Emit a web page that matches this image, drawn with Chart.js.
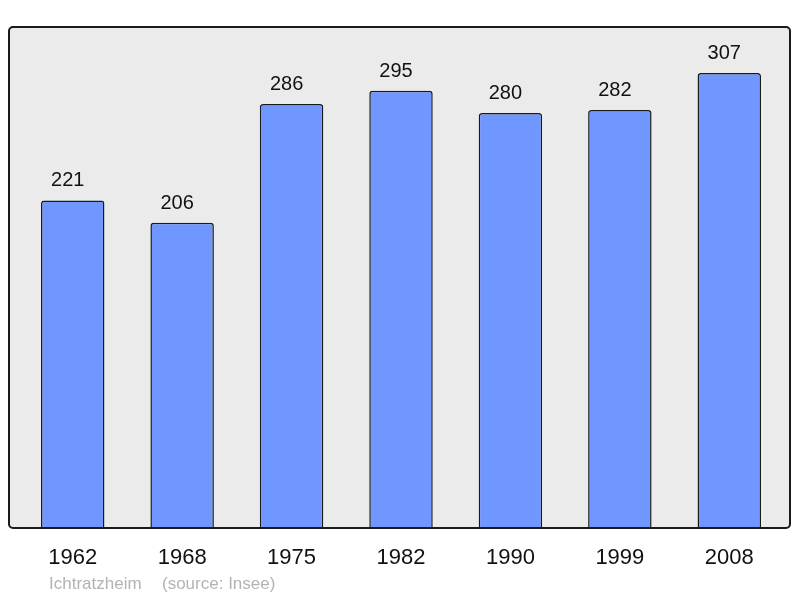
<!DOCTYPE html>
<html>
<head>
<meta charset="utf-8">
<script src="https://cdn.jsdelivr.net/npm/chart.js@4/dist/chart.umd.min.js"></script>
<style>
  html, body { margin: 0; padding: 0; background: #ffffff; }
  #wrap { width: 800px; height: 598px; position: relative; }
</style>
</head>
<body>
<div id="wrap"><canvas id="chart"></canvas></div>
<script>
const years = ["1962", "1968", "1975", "1982", "1990", "1999", "2008"];
const population = [221, 206, 286, 295, 280, 282, 307];
const townName = "Ichtratzheim";
const sourceText = "(source: Insee)";

const FONT = "'Liberation Sans', Arial, sans-serif";

// Grey panel + frame behind bars, labels on top
const panelPlugin = {
  id: "panel",
  beforeDatasetsDraw(chart) {
    const { ctx } = chart;
    ctx.save();
    ctx.fillStyle = "#ebebeb";
    ctx.beginPath();
    ctx.roundRect(9, 27, 781, 501, 4);
    ctx.fill();
    ctx.restore();
  },
  afterDatasetsDraw(chart) {
    const { ctx } = chart;
    const x = chart.scales.x;
    const meta = chart.getDatasetMeta(0);

    ctx.save();
    ctx.strokeStyle = "#1a1a1a";
    ctx.lineWidth = 2;
    ctx.beginPath();
    ctx.roundRect(9, 27, 781, 501, 4);
    ctx.stroke();

    // values above bars (sit slightly left of the bar centre in the original)
    ctx.fillStyle = "#111";
    ctx.textAlign = "center";
    ctx.textBaseline = "alphabetic";
    ctx.font = "20px " + FONT;
    meta.data.forEach((bar, i) => {
      ctx.fillText(String(population[i]), bar.x - 5, bar.y - 14);
    });

    // year labels
    ctx.font = "22px " + FONT;
    years.forEach((y, i) => {
      ctx.fillText(y, x.getPixelForValue(i), 564);
    });

    // source line
    ctx.fillStyle = "#b3b3b3";
    ctx.textAlign = "left";
    ctx.font = "17px " + FONT;
    ctx.fillText(townName, 49, 589);
    ctx.fillText(sourceText, 162, 589);
    ctx.restore();
  }
};

new Chart(document.getElementById("chart"), {
  type: "bar",
  data: {
    labels: years,
    datasets: [{
      data: population,
      backgroundColor: "#7096ff",
      borderColor: "#1a1a1a",
      borderWidth: 1.5,
      borderRadius: { topLeft: 3, topRight: 3 },
      borderSkipped: "bottom",
      barPercentage: 0.58,
      categoryPercentage: 1
    }]
  },
  options: {
    responsive: true,
    maintainAspectRatio: false,
    animation: false,
    layout: { padding: { left: 18, right: 16, top: 27, bottom: 70 } },
    plugins: {
      legend: { display: false },
      tooltip: { enabled: false }
    },
    scales: {
      x: { display: false },
      y: { display: false, min: 0, max: 338 }
    }
  },
  plugins: [panelPlugin]
});
</script>
</body>
</html>
